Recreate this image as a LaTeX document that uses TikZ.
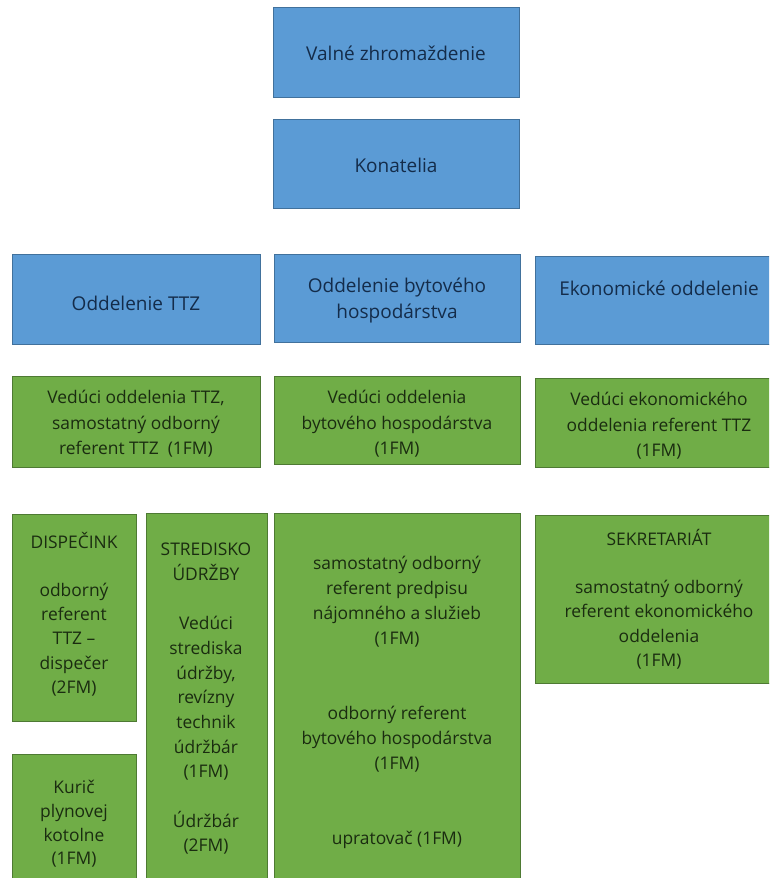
\documentclass[tikz,border=0pt]{standalone}
\usepackage{fontspec}
\setmainfont{Open Sans}
\definecolor{bluefill}{HTML}{5B9BD5}
\definecolor{blueedge}{HTML}{41719C}
\definecolor{bluetext}{HTML}{142C4A}
\definecolor{greenfill}{HTML}{70AD47}
\definecolor{greenedge}{HTML}{4E7A33}
\definecolor{greentext}{HTML}{1A2C10}
\tikzset{
  bluebox/.style={draw=blueedge, fill=bluefill, line width=1.3pt, inner sep=0pt, anchor=north west},
  greenbox/.style={draw=greenedge, fill=greenfill, line width=1.3pt, inner sep=0pt, anchor=north west},
  bluetxt/.style={text=bluetext, align=center, inner sep=0pt, font=\fontsize{19}{26}\selectfont},
  greentxt/.style={text=greentext, align=center, inner sep=0pt, font=\fontsize{17.4}{24.5}\selectfont},
}
\begin{document}
\begin{tikzpicture}[x=1pt,y=-1pt]
\useasboundingbox (0,0) rectangle (769,878);
\clip (0,0) rectangle (769,878);
% top boxes
\node[bluebox, minimum width=246pt, minimum height=90pt] (valne) at (273,7) {};
\node[bluetxt] (valnet) at (396,53) {Valné zhromaždenie};
\node[bluebox, minimum width=246pt, minimum height=89pt] (konat) at (273,119) {};
\node[bluetxt] (konatt) at (396,165) {Konatelia};
% departments
\node[bluebox, minimum width=248pt, minimum height=90pt] (ttz) at (12,254) {};
\node[bluetxt] (ttzt) at (136,303) {Oddelenie TTZ};
\node[bluebox, minimum width=246pt, minimum height=88pt] (byt) at (274,254) {};
\node[bluetxt] (bytt) at (397,301) {Oddelenie bytového\\hospodárstva};
\node[bluebox, minimum width=248pt, minimum height=88pt] (eko) at (535,256) {};
\node[bluetxt] (ekot) at (659,288) {Ekonomické oddelenie};
% heads
\node[greenbox, minimum width=248pt, minimum height=91pt] (vttz) at (12,376) {};
\node[greentxt, font=\fontsize{17.4}{25.5}\selectfont] (vttzt) at (136,424) {Vedúci oddelenia TTZ,\\samostatný odborný\\referent TTZ\ \ (1FM)};
\node[greenbox, minimum width=246pt, minimum height=88pt] (vbyt) at (274,376) {};
\node[greentxt, font=\fontsize{17.4}{25.5}\selectfont] (vbytt) at (397,424) {Vedúci oddelenia\\bytového hospodárstva\\(1FM)};
\node[greenbox, minimum width=248pt, minimum height=89pt] (veko) at (535,378) {};
\node[greentxt, font=\fontsize{17.4}{25.5}\selectfont] (vekot) at (659,426) {Vedúci ekonomického\\oddelenia referent TTZ\\(1FM)};
% bottom row
\node[greenbox, minimum width=124pt, minimum height=207pt] (disp) at (12,514) {};
\node[greentxt, font=\fontsize{17.4}{24.2}\selectfont] (dispt) at (74,614) {DISPEČINK\\[24.2pt]odborný\\referent\\TTZ –\\dispečer\\(2FM)};
\node[greenbox, minimum width=124pt, minimum height=140pt] (kuric) at (12,754) {};
\node[greentxt, font=\fontsize{17.4}{23.7}\selectfont] (kurict) at (74,824) {Kurič\\plynovej\\kotolne\\(1FM)};
\node[greenbox, minimum width=121pt, minimum height=380pt] (stred) at (146,513) {};
\node[greentxt, font=\fontsize{17.4}{24.67}\selectfont] (stredt) at (206,699) {STREDISKO\\ÚDRŽBY\\[24.67pt]Vedúci\\strediska\\údržby,\\revízny\\technik\\údržbár\\(1FM)\\[24.67pt]Údržbár\\(2FM)};
\node[greenbox, minimum width=246pt, minimum height=380pt] (bytc) at (274,513) {};
\node[greentxt, font=\fontsize{17.4}{25}\selectfont] (bytct) at (397,702) {samostatný odborný\\referent predpisu\\nájomného a služieb\\(1FM)\\[50pt]odborný referent\\bytového hospodárstva\\(1FM)\\[50pt]upratovač (1FM)};
\node[greenbox, minimum width=248pt, minimum height=168pt] (sekr) at (535,515) {};
\node[greentxt, font=\fontsize{17.4}{24.2}\selectfont] (sekrt) at (659,599) {SEKRETARIÁT\\[24.2pt]samostatný odborný\\referent ekonomického\\oddelenia\\(1FM)};
\end{tikzpicture}
\end{document}
